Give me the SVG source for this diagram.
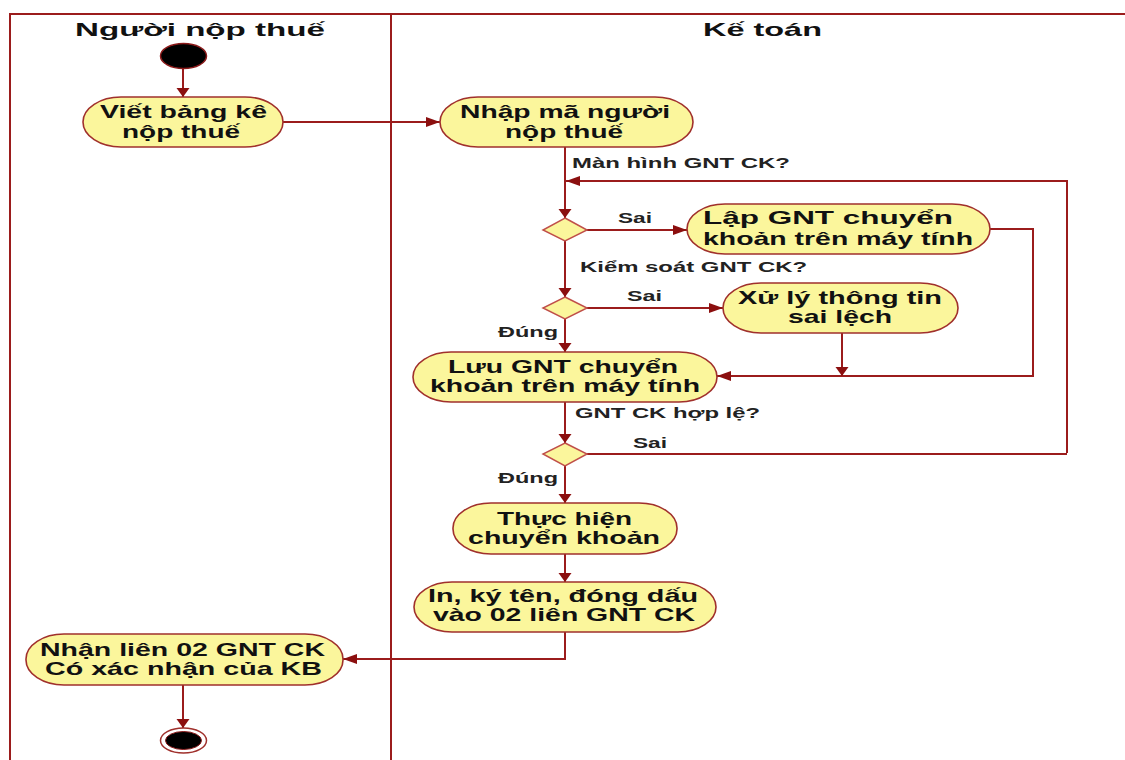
<svg xmlns="http://www.w3.org/2000/svg" width="1125" height="760" viewBox="0 0 1125 760">
<defs>
<style>
.lane{stroke:#9b1c1c;stroke-width:2;fill:none}
.node rect{fill:#fbf69c;stroke:#a0302c;stroke-width:1.6}
.node text,.title{font-family:"Liberation Sans",Arial,sans-serif;font-weight:bold;font-size:19px;fill:#111}
.lbl{font-family:"Liberation Sans",Arial,sans-serif;font-weight:bold;font-size:14px;fill:#222}
.edge{stroke:#9b1c1c;stroke-width:2;fill:none}
.dec{fill:#fbf69c;stroke:#c0504a;stroke-width:1.5}
</style>
<marker id="ah" markerUnits="userSpaceOnUse" markerWidth="14" markerHeight="12" refX="14" refY="5" orient="auto"><path d="M0,0 L14,5 L0,10 z" fill="#8b0f0f"/></marker>
<marker id="av" markerUnits="userSpaceOnUse" markerWidth="10" markerHeight="14" refX="9" refY="6.5" orient="auto"><path d="M0,0 L9,6.5 L0,13 z" fill="#8b0f0f"/></marker>
</defs>
<rect width="1125" height="760" fill="#fff"/>
<g id="lanes">
<path class="lane" d="M1125,14 H10 V760"/>
<path class="lane" d="M391,14 V760"/>
<text class="title" x="75" y="36" textLength="250" lengthAdjust="spacingAndGlyphs">Người nộp thuế</text>
<text class="title" x="703" y="36" textLength="119" lengthAdjust="spacingAndGlyphs">Kế toán</text>
</g>
<g id="connectors">
<path class="edge" d="M183,68 V97" marker-end="url(#av)"/>
<path class="edge" d="M283,122 H440" marker-end="url(#ah)"/>
<path class="edge" d="M565,147 V218" marker-end="url(#av)"/>
<path class="edge" d="M1067,453 V181 H566" marker-end="url(#ah)"/>
<path class="edge" d="M586,230 H687" marker-end="url(#ah)"/>
<path class="edge" d="M565,241 V297" marker-end="url(#av)"/>
<path class="edge" d="M586,308 H723" marker-end="url(#ah)"/>
<path class="edge" d="M565,319 V352" marker-end="url(#av)"/>
<path class="edge" d="M990,229 H1033 V376 H717" marker-end="url(#ah)"/>
<path class="edge" d="M842,333 V376" marker-end="url(#av)"/>
<path class="edge" d="M565,402 V443" marker-end="url(#av)"/>
<path class="edge" d="M586,454 H1067"/>
<path class="edge" d="M565,466 V503" marker-end="url(#av)"/>
<path class="edge" d="M565,554 V582" marker-end="url(#av)"/>
<path class="edge" d="M565,632 V659 H343" marker-end="url(#ah)"/>
<path class="edge" d="M183,685 V728" marker-end="url(#av)"/>
<text class="lbl" x="572" y="168" textLength="218" lengthAdjust="spacingAndGlyphs">Màn hình GNT CK?</text>
<text class="lbl" x="618" y="223" textLength="34" lengthAdjust="spacingAndGlyphs">Sai</text>
<text class="lbl" x="580" y="272" textLength="227" lengthAdjust="spacingAndGlyphs">Kiểm soát GNT CK?</text>
<text class="lbl" x="627" y="301" textLength="35" lengthAdjust="spacingAndGlyphs">Sai</text>
<text class="lbl" x="498" y="337" textLength="60" lengthAdjust="spacingAndGlyphs">Đúng</text>
<text class="lbl" x="575" y="418" textLength="185" lengthAdjust="spacingAndGlyphs">GNT CK hợp lệ?</text>
<text class="lbl" x="633" y="448" textLength="34" lengthAdjust="spacingAndGlyphs">Sai</text>
<text class="lbl" x="498" y="483" textLength="60" lengthAdjust="spacingAndGlyphs">Đúng</text>
</g>
<g id="start"><ellipse cx="183.5" cy="56" rx="23" ry="12.5" fill="#000" stroke="#8b1a1a" stroke-width="1.5"/></g>
<g id="n-viet" class="node"><rect x="83" y="97" width="200" height="50" rx="38" ry="25"/>
<text x="100" y="118" textLength="167" lengthAdjust="spacingAndGlyphs">Viết bảng kê</text>
<text x="122" y="138" textLength="118" lengthAdjust="spacingAndGlyphs">nộp thuế</text></g>
<g id="n-nhap" class="node"><rect x="440" y="97" width="253" height="50" rx="38" ry="25"/>
<text x="460" y="118" textLength="210" lengthAdjust="spacingAndGlyphs">Nhập mã người</text>
<text x="505" y="138" textLength="118" lengthAdjust="spacingAndGlyphs">nộp thuế</text></g>
<g id="d1"><path class="dec" d="M565,218 L587,230 L565,241 L543,230 z"/></g>
<g id="n-lap" class="node"><rect x="687" y="204" width="303" height="50" rx="38" ry="25"/>
<text x="703" y="224" textLength="250" lengthAdjust="spacingAndGlyphs">Lập GNT chuyển</text>
<text x="703" y="245" textLength="270" lengthAdjust="spacingAndGlyphs">khoản trên máy tính</text></g>
<g id="d2"><path class="dec" d="M565,297 L587,308 L565,319 L543,308 z"/></g>
<g id="n-xuly" class="node"><rect x="723" y="283" width="235" height="50" rx="38" ry="25"/>
<text x="738" y="304" textLength="204" lengthAdjust="spacingAndGlyphs">Xử lý thông tin</text>
<text x="788" y="323" textLength="104" lengthAdjust="spacingAndGlyphs">sai lệch</text></g>
<g id="n-luu" class="node"><rect x="413" y="352" width="304" height="50" rx="38" ry="25"/>
<text x="448" y="373" textLength="230" lengthAdjust="spacingAndGlyphs">Lưu GNT chuyển</text>
<text x="430" y="392" textLength="270" lengthAdjust="spacingAndGlyphs">khoản trên máy tính</text></g>
<g id="d3"><path class="dec" d="M565,443 L587,454 L565,466 L543,454 z"/></g>
<g id="n-thuc" class="node"><rect x="453" y="503" width="224" height="51" rx="38" ry="25"/>
<text x="497" y="525" textLength="135" lengthAdjust="spacingAndGlyphs">Thực hiện</text>
<text x="468" y="544" textLength="192" lengthAdjust="spacingAndGlyphs">chuyển khoản</text></g>
<g id="n-in" class="node"><rect x="414" y="582" width="302" height="50" rx="38" ry="25"/>
<text x="428" y="602" textLength="270" lengthAdjust="spacingAndGlyphs">In, ký tên, đóng dấu</text>
<text x="433" y="621" textLength="262" lengthAdjust="spacingAndGlyphs">vào 02 liên GNT CK</text></g>
<g id="n-nhan" class="node"><rect x="26" y="634" width="317" height="51" rx="38" ry="25"/>
<text x="40" y="656" textLength="285" lengthAdjust="spacingAndGlyphs">Nhận liên 02 GNT CK</text>
<text x="45" y="675" textLength="277" lengthAdjust="spacingAndGlyphs">Có xác nhận của KB</text></g>
<g id="end"><ellipse cx="183.5" cy="740.5" rx="23" ry="12.5" fill="#fff" stroke="#a0302c" stroke-width="1.5"/>
<ellipse cx="183.5" cy="740.5" rx="18" ry="9" fill="#000" stroke="#8b1a1a" stroke-width="1"/></g>
</svg>
